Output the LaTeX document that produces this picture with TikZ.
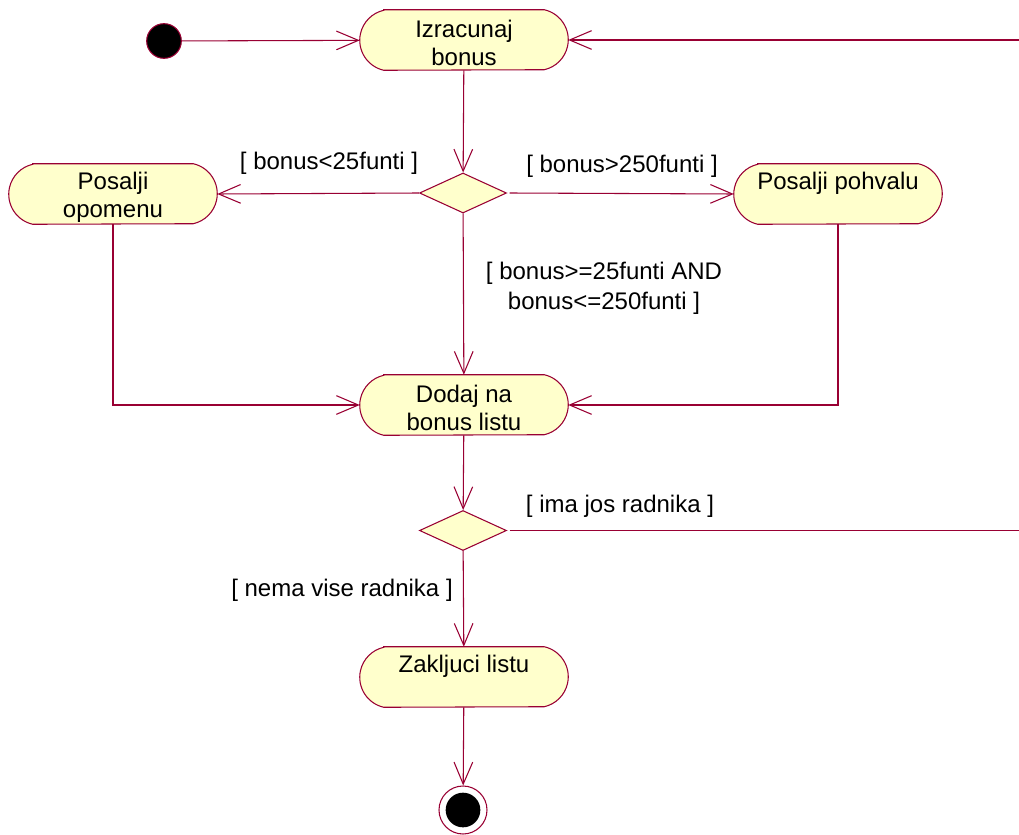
\documentclass[tikz,border=0pt]{standalone}
\usepackage{fontspec}
\setmainfont{Liberation Sans}
\usetikzlibrary{arrows.meta,shapes.geometric,backgrounds}
\definecolor{umlline}{HTML}{990033}
\definecolor{umlfill}{HTML}{FFFFCC}
\tikzset{
  actnode/.style={rectangle, draw=none, inner sep=0pt, minimum width=156pt, minimum height=45pt},
  acttext/.style={inner sep=0pt, align=center, font=\fontsize{18pt}{21pt}\selectfont},
  decision/.style={diamond, draw=umlline, fill=umlfill, line width=0.8pt, inner sep=0pt,
    minimum width=65.25pt, minimum height=30pt},
  startnode/.style={circle, draw=umlline, fill=black, line width=0.8pt, inner sep=0pt, minimum size=26pt},
  endouter/.style={circle, draw=umlline, fill=white, line width=0.8pt, inner sep=0pt, minimum size=36pt},
  endinner/.style={circle, fill=black, inner sep=0pt, minimum size=26pt},
  guard/.style={font=\fontsize{18pt}{22.5pt}\selectfont, align=center, inner sep=0pt},
  conn/.style={draw=umlline, line width=0.8pt},
  flow/.style={conn, -{Straight Barb[length=16.5pt, width=14pt, line width=0.8pt]}},
}
\newcommand\actoutline[1]{%
  \draw[conn, fill=umlfill] ([xshift=18pt]#1.north west) -- ([xshift=-18pt]#1.north east)
    arc[start angle=77.3, end angle=-77.3, radius=23.06pt]
    -- ([xshift=18pt]#1.south west)
    arc[start angle=257.3, end angle=102.7, radius=23.06pt] -- cycle;}
\begin{document}
\begin{tikzpicture}[x=0.75pt, y=-0.75pt]
\useasboundingbox (0,0) rectangle (1019,834);

% activities
\node[actnode] (izr) at (464,40) {};
\node[actnode] (opo) at (113,194) {};
\node[actnode] (poh) at (838,194) {};
\node[actnode] (dod) at (464,405) {};
\node[actnode] (zak) at (464,677) {};
\actoutline{izr}
\actoutline{opo}
\actoutline{poh}
\actoutline{dod}
\actoutline{zak}
\node[acttext] (izrt) at ([yshift=-2.5pt]izr.center) {Izracunaj\\bonus};
\node[acttext] (opot) at ([yshift=-2.5pt]opo.center) {Posalji\\opomenu};
\node[acttext] (poht) at ([yshift=-2.5pt]poh.center) {Posalji pohvalu\\\phantom{g}};
\node[acttext] (dodt) at ([yshift=-2.5pt]dod.center) {Dodaj na\\bonus listu};
\node[acttext] (zakt) at ([yshift=-2.5pt]zak.center) {Zakljuci listu\\\phantom{g}};

% decisions
\node[decision] (d1) at (463,193) {};
\node[decision] (d2) at (463,530.5) {};

% start / end
\node[startnode] (start) at (164,41) {};
\node[endouter] (end) at (463,810) {};
\node[endinner] (endin) at (end.center) {};

% free ends of the loop
\coordinate (r1) at (1019,40);
\coordinate (r2) at (1019,530.5);

% guards
\node[guard] (g1) at (329,163) {[ bonus<25funti ]};
\node[guard] (g2) at (622,166) {[ bonus>250funti ]};
\node[guard] (g3) at (604,288) {[ bonus>=25funti AND\\bonus<=250funti ]};
\node[guard] (g4) at (620,506) {[ ima jos radnika ]};
\node[guard] (g5) at (342,590) {[ nema vise radnika ]};

% connectors
\draw[flow] (start) -- (izr);
\draw[flow] (izr) -- (d1);
\draw[flow] (d1.west) -- (opo.east);
\draw[flow] ([xshift=2pt]d1.east) -- (poh.west);
\draw[flow] (d1) -- (dod);
\draw[flow] (opo.south) |- (dod.west);
\draw[flow] (poh.south) |- (dod.east);
\draw[flow] (dod) -- (d2);
\draw[conn] ([xshift=2pt]d2.east) -- (r2);
\draw[flow] (r1) -- (izr.east);
\draw[flow] (d2) -- (zak);
\draw[flow] (zak) -- (end);
\end{tikzpicture}
\end{document}
